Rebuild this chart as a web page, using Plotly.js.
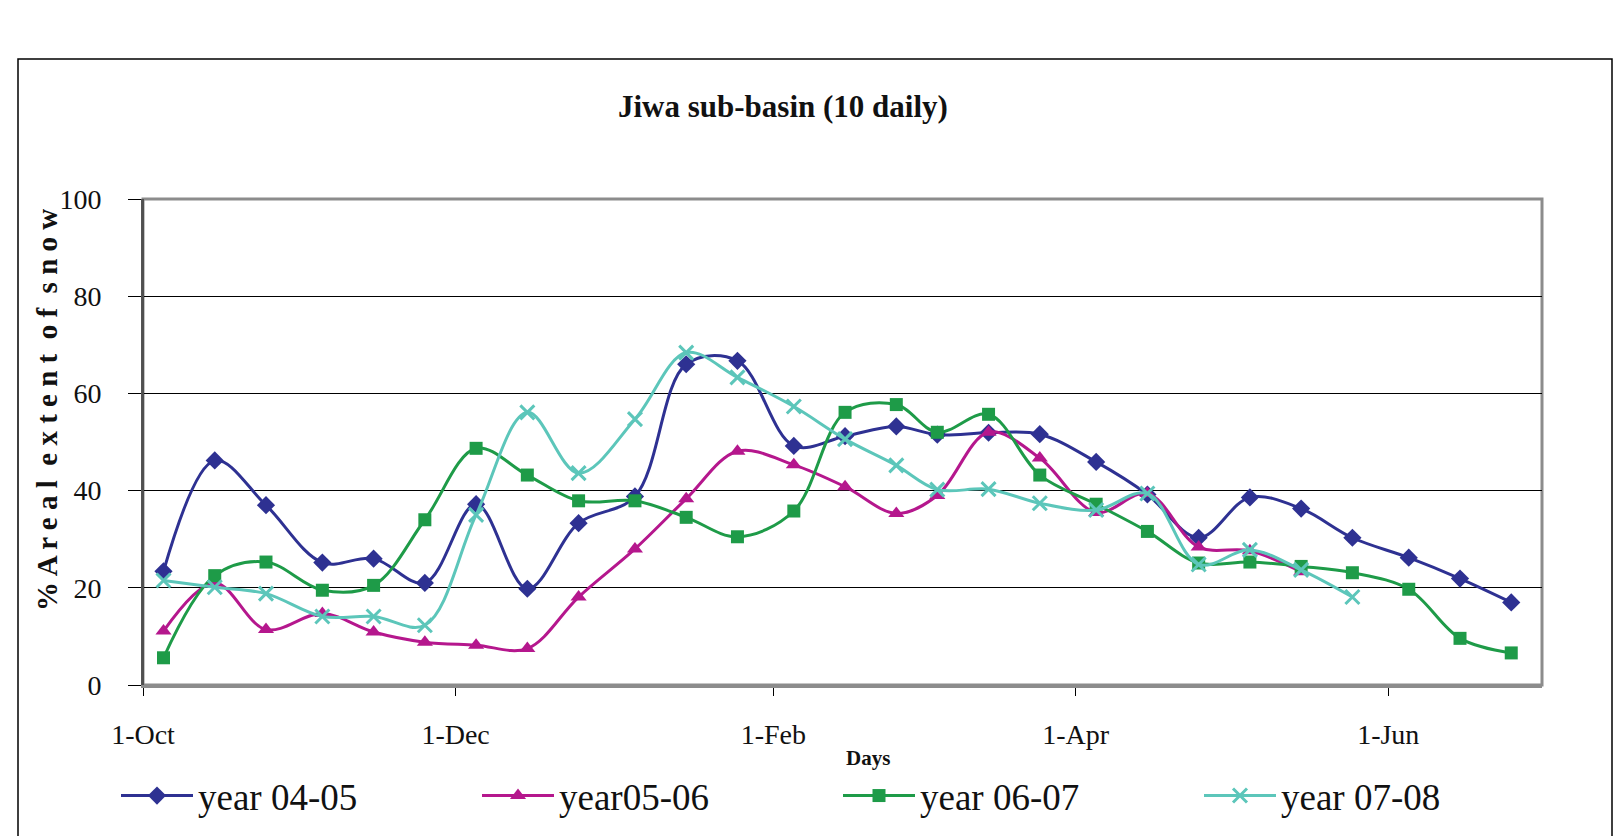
<!DOCTYPE html>
<html>
<head>
<meta charset="utf-8">
<script src="https://cdn.plot.ly/plotly-3.0.1.min.js"></script>
<style>html,body{margin:0;padding:0;background:#fff;}#chart{width:1622px;height:836px;}</style>
</head>
<body>
<div id="chart"></div>
<script>
// 10-daily slots of the snow season (Oct -> Jun), placed on a reference season
const slotDates = [
  "2004-10-05","2004-10-15","2004-10-25",
  "2004-11-05","2004-11-15","2004-11-25",
  "2004-12-05","2004-12-15","2004-12-25",
  "2005-01-05","2005-01-15","2005-01-25",
  "2005-02-05","2005-02-15","2005-02-25",
  "2005-03-05","2005-03-15","2005-03-25",
  "2005-04-05","2005-04-15","2005-04-25",
  "2005-05-05","2005-05-15","2005-05-25",
  "2005-06-05","2005-06-15","2005-06-25"
];
const seriesNames = ["year 04-05", "year05-06", "year 06-07", "year 07-08"];
const year0405 = [23.4, 46.2, 37.0, 25.2, 26.0, 21.0, 37.2, 19.8, 33.3, 38.8, 66.0, 66.7, 49.2, 51.2, 53.2, 51.5, 51.9, 51.6, 45.9, 39.2, 30.3, 38.6, 36.3, 30.3, 26.2, 21.9, 17.0];
const year0506 = [11.1, 21.0, 11.4, 14.7, 10.9, 8.8, 8.2, 7.5, 18.1, 28.0, 38.3, 48.1, 45.3, 40.8, 35.3, 39.0, 52.0, 46.7, 35.5, 39.4, 28.4, 27.6, 23.3];
const year0607 = [5.6, 22.5, 25.3, 19.5, 20.5, 34.0, 48.7, 43.2, 37.9, 37.9, 34.5, 30.5, 35.8, 56.1, 57.7, 52.0, 55.7, 43.2, 37.2, 31.6, 25.1, 25.3, 24.4, 23.1, 19.7, 9.6, 6.6];
const year0708 = [21.5, 20.1, 18.8, 14.1, 14.1, 12.3, 35.0, 56.1, 43.6, 54.7, 68.4, 63.3, 57.3, 50.6, 45.2, 40.2, 40.3, 37.4, 36.0, 39.4, 24.8, 27.8, 23.7, 18.1];
const xTickVals = ["2004-10-01","2004-12-01","2005-02-01","2005-04-01","2005-06-01"];
const xTickText = ["1-Oct","1-Dec","1-Feb","1-Apr","1-Jun"];
const yTickVals = [0, 20, 40, 60, 80, 100];

const W = 1622, H = 836;
const L = 143, R = 1542, T = 199, B = 685;
const pw = R - L, ph = B - T;
const px = X => (X - L) / pw;
const py = Y => (B - Y) / ph;

const serif = "Liberation Serif, Times New Roman, serif";
const colors = ["#2E3192", "#B5178D", "#1E9B48", "#5CC6BA"];
const symbols = ["diamond", "triangle-up", "square", "x-thin-open"];
const sizes = [14, 14, 13, 14];
const values = [year0405, year0506, year0607, year0708];

const traces = values.map((v, i) => ({
  type: "scatter",
  mode: "lines+markers",
  name: seriesNames[i],
  x: slotDates.slice(0, v.length),
  y: v,
  line: {color: colors[i], width: 3, shape: "spline", smoothing: 1},
  marker: {
    symbol: symbols[i], size: sizes[i], color: colors[i],
    line: {color: colors[i], width: i === 3 ? 3 : 0}
  }
}));

const layout = {
  width: W, height: H,
  margin: {l: L, r: W - R, t: T, b: H - B, pad: 0, autoexpand: false},
  paper_bgcolor: "#fff", plot_bgcolor: "#fff",
  font: {family: serif, color: "#000"},
  showlegend: true,
  legend: {
    orientation: "h", x: px(116), xanchor: "left", y: py(796), yanchor: "middle",
    font: {family: serif, size: 37, color: "#111"},
    entrywidth: 274, entrywidthmode: "pixels",
    bgcolor: "rgba(0,0,0,0)", itemwidth: 72, tracegroupgap: 0
  },
  xaxis: {
    type: "date",
    range: ["2004-10-01", "2005-07-01"],
    tickmode: "array", tickvals: xTickVals, ticktext: xTickText,
    ticks: "outside", ticklen: 8, tickwidth: 1, tickcolor: "#000",
    ticklabelstandoff: 14,
    tickfont: {family: serif, size: 28, color: "#111"},
    showgrid: false, zeroline: false,
    showline: true, linecolor: "#8c8c8c", linewidth: 3,
    fixedrange: true
  },
  yaxis: {
    range: [0, 100],
    tickmode: "array", tickvals: yTickVals,
    ticks: "outside", ticklen: 13, tickwidth: 1, tickcolor: "#000",
    ticklabelstandoff: 21,
    tickfont: {family: serif, size: 28, color: "#111"},
    showgrid: true, gridcolor: "#000", gridwidth: 1,
    zeroline: false,
    showline: true, linecolor: "#555", linewidth: 2,
    fixedrange: true
  },
  shapes: [
    {type: "rect", xref: "paper", yref: "paper", x0: 0, x1: 1, y0: 0, y1: 1,
     line: {color: "#8c8c8c", width: 3}, layer: "below"},
    {type: "line", xref: "paper", yref: "paper", x0: 0, x1: 0, y0: 0, y1: 1,
     line: {color: "#505050", width: 2}, layer: "above"},
    {type: "rect", xref: "paper", yref: "paper",
     x0: px(18), x1: px(1612), y0: py(59), y1: py(900),
     line: {color: "#000", width: 1.5}, layer: "below"}
  ],
  annotations: [
    {text: "<b>Jiwa sub-basin (10 daily)</b>", xref: "paper", yref: "paper",
     x: px(783), y: py(107), xanchor: "center", yanchor: "middle", showarrow: false,
     font: {family: serif, size: 31, color: "#111"}},
    {text: "<b>% A r e a l \u00a0e x t e n t \u00a0o f \u00a0s n o w</b>", xref: "paper", yref: "paper",
     x: px(47), y: py(410), xanchor: "center", yanchor: "middle", showarrow: false, textangle: -90,
     font: {family: serif, size: 29, color: "#111"}},
    {text: "<b>Days</b>", xref: "paper", yref: "paper",
     x: px(868), y: py(758), xanchor: "center", yanchor: "middle", showarrow: false,
     font: {family: serif, size: 21, color: "#111"}}
  ]
};

Plotly.newPlot("chart", traces, layout, {displayModeBar: false, staticPlot: true});
</script>
</body>
</html>
